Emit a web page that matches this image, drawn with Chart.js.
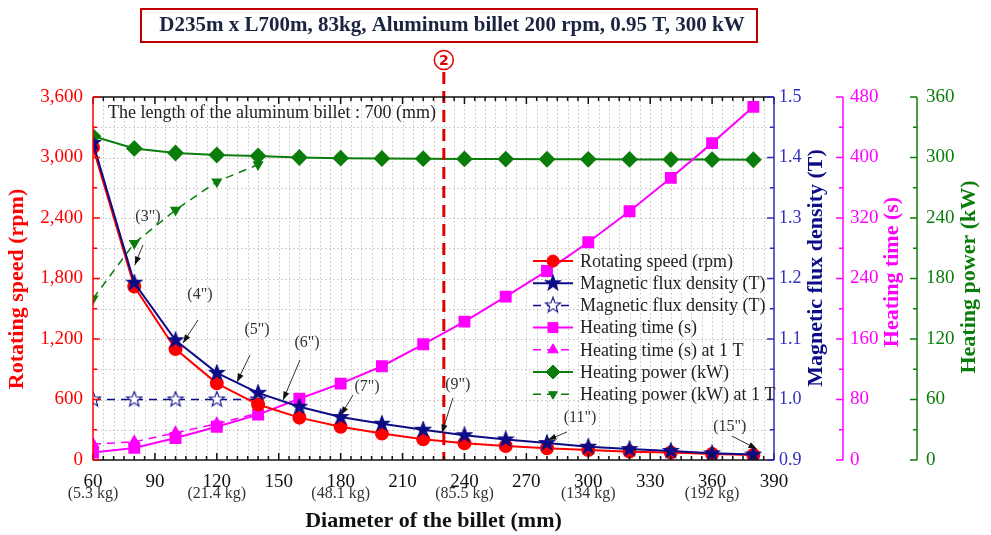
<!DOCTYPE html>
<html>
<head>
<meta charset="utf-8">
<script src="https://cdn.jsdelivr.net/npm/chart.js@4.4.0/dist/chart.umd.min.js"></script>
<style>
  html, body { margin: 0; padding: 0; background: #fff; }
  canvas { display: block; }
</style>
</head>
<body>
<canvas id="chart" width="991" height="535" style="width:991px;height:535px"></canvas>
<script>
// data
const diameters   = [60, 80, 100, 120, 140, 160, 180, 200, 220, 240, 260, 280, 300, 320, 340, 360, 380];
const speedRpm    = [3100, 1720, 1100, 760, 550, 420, 330, 262, 205, 166, 139, 116, 99, 83, 74, 60, 50];
const fluxT       = [1.424, 1.193, 1.098, 1.044, 1.011, 0.988, 0.971, 0.960, 0.950, 0.941, 0.934, 0.928, 0.922, 0.918, 0.915, 0.911, 0.909];
const timeS       = [10, 16, 29, 44, 60, 81, 101, 124, 153, 183, 216, 250, 288, 329, 373, 419, 467];
const powerKW     = [321, 309, 304.5, 302.5, 301.5, 300, 299.3, 299, 298.8, 298.6, 298.4, 298.3, 298.2, 298.1, 298, 297.9, 297.8];

const diameters1T = [60, 80, 100, 120, 140];
const flux1T      = [1.0, 1.0, 1.0, 1.0, 1.0];
const time1T      = [21, 24, 36, 48, 62];
const power1T     = [160, 215, 248, 276, 293];

const massAt      = [60, 120, 180, 240, 300, 360];
const massLabels  = ['(5.3 kg)', '(21.4 kg)', '(48.1 kg)', '(85.5 kg)', '(134 kg)', '(192 kg)'];
const markDiameter = 230;

const SERIF = '"Liberation Serif", "Times New Roman", serif';
const fnt = (size, bold) => (bold ? 'bold ' : '') + size + 'px ' + SERIF;

const RED = '#ff0000', NAVY = '#0c0c86', BLUE_AX = '#2f2fc0', PINK = '#ff00ff', GREEN = '#0a7d0a';

function pts(xs, ys) { return xs.map((x, i) => ({ x, y: ys[i] })); }

function makeStar(r, fill, stroke) {
  const c = document.createElement('canvas');
  c.width = c.height = Math.ceil(r * 2 + 2);
  const g = c.getContext('2d');
  const cx = c.width / 2, cy = c.height / 2;
  g.beginPath();
  for (let i = 0; i < 10; i++) {
    const rr = i % 2 ? r * 0.42 : r;
    const a = -Math.PI / 2 + i * Math.PI / 5;
    g.lineTo(cx + rr * Math.cos(a), cy + rr * Math.sin(a));
  }
  g.closePath();
  g.fillStyle = fill; g.fill();
  g.strokeStyle = stroke; g.lineWidth = 1.1; g.stroke();
  return c;
}
const starFull = makeStar(8, NAVY, NAVY);
const starOpen = makeStar(8, '#ffffff', NAVY);

// annotation labels, given in data units (x: mm, y: rpm)
const notes = [
  { t: '(3")',  tx: 86.6,  ty: 2411, fx: 84.2,  fy: 2133, ex: 80.3,  ey: 1935 },
  { t: '(4")',  tx: 111.8, ty: 1637, fx: 110.9, fy: 1389, ex: 103.6, ey: 1161 },
  { t: '(5")',  tx: 139.5, ty: 1290, fx: 136.1, fy: 1042, ex: 129.8, ey: 774 },
  { t: '(6")',  tx: 163.7, ty: 1161, fx: 160.3, fy: 992,  ex: 152.1, ey: 595 },
  { t: '(7")',  tx: 192.8, ty: 724,  fx: 186,   fy: 645,  ex: 180.2, ey: 446 },
  { t: '(9")',  tx: 236.8, ty: 744,  fx: 234.4, fy: 615,  ex: 229.1, ey: 268 },
  { t: '(11")', tx: 296,   ty: 417,  fx: 289.7, fy: 278,  ex: 280.4, ey: 198 },
  { t: '(15")', tx: 368.6, ty: 327,  fx: 369.6, fy: 238,  ex: 381.7, ey: 109 }
];

function line(ctx, x1, y1, x2, y2) { ctx.beginPath(); ctx.moveTo(x1, y1); ctx.lineTo(x2, y2); ctx.stroke(); }

const decor = {
  id: 'decor',
  beforeDatasetsDraw(chart) {
    const { ctx, chartArea: a, scales: { x, yRpm } } = chart;
    ctx.save();
    ctx.strokeStyle = '#c4c4c4'; ctx.lineWidth = 1; ctx.setLineDash([1.5, 2.5]);
    for (let v = 65; v < 390; v += 5) {
      const px = Math.round(x.getPixelForValue(v)) + 0.5;
      line(ctx, px, a.top, px, a.bottom);
    }
    for (let v = 300; v < 3600; v += 300) {
      const py = Math.round(yRpm.getPixelForValue(v)) + 0.5;
      line(ctx, a.left, py, a.right, py);
    }
    ctx.restore();
  },
  afterDatasetsDraw(chart) {
    const { ctx, chartArea: a, scales } = chart;
    const { x, yRpm, yT, yS, yKW } = scales;
    const H = Chart.helpers;
    ctx.save();

    // marker line at the chosen diameter
    ctx.strokeStyle = '#e00000'; ctx.lineWidth = 3; ctx.setLineDash([12, 7]);
    const mx = x.getPixelForValue(markDiameter);
    line(ctx, mx, 72, mx, a.bottom);
    ctx.setLineDash([]);

    // frame + inward ticks
    ctx.lineWidth = 1.5;
    ctx.strokeStyle = '#111';
    line(ctx, a.left, a.top, a.right, a.top);
    line(ctx, a.left, a.bottom, a.right, a.bottom);
    for (let v = 60; v <= 390; v += 5) {
      const px = x.getPixelForValue(v), len = v % 30 === 0 ? 7 : 4;
      line(ctx, px, a.bottom, px, a.bottom - len);
      line(ctx, px, a.top, px, a.top + len);
    }
    ctx.strokeStyle = RED;
    line(ctx, a.left, a.top, a.left, a.bottom);
    for (let v = 0; v <= 3600; v += 300) {
      const py = yRpm.getPixelForValue(v);
      line(ctx, a.left, py, a.left + (v % 600 === 0 ? 7 : 4), py);
    }
    const rightAxes = [
      { s: yT, c: BLUE_AX, x0: a.right, min: 0.9, max: 1.5, step: 0.05, major: 2 },
      { s: yS, c: PINK, x0: yS.left, min: 0, max: 480, step: 40, major: 2 },
      { s: yKW, c: GREEN, x0: yKW.left, min: 0, max: 360, step: 30, major: 2 }
    ];
    rightAxes.forEach(r => {
      ctx.strokeStyle = r.c;
      line(ctx, r.x0, a.top, r.x0, a.bottom);
      const n = Math.round((r.max - r.min) / r.step);
      for (let i = 0; i <= n; i++) {
        const py = r.s.getPixelForValue(r.min + i * r.step);
        line(ctx, r.x0, py, r.x0 - (i % r.major === 0 ? 7 : 4), py);
      }
    });

    // axis titles
    const vTitle = (text, cx, cy, color) => {
      ctx.save();
      ctx.translate(cx, cy); ctx.rotate(-Math.PI / 2);
      ctx.fillStyle = color; ctx.font = fnt(22, true);
      ctx.textAlign = 'center'; ctx.textBaseline = 'middle';
      ctx.fillText(text, 0, 0);
      ctx.restore();
    };
    vTitle('Rotating speed (rpm)', 17, 289, RED);
    vTitle('Magnetic flux density (T)', yT.right - 27, 268, NAVY);
    vTitle('Heating time (s)', yS.right - 25, 272, PINK);
    vTitle('Heating power (kW)', yKW.right - 22, 277, GREEN);

    // mass labels under the diameter ticks
    ctx.fillStyle = '#333'; ctx.font = fnt(16); ctx.textAlign = 'center'; ctx.textBaseline = 'middle';
    massAt.forEach((d, i) => ctx.fillText(massLabels[i], x.getPixelForValue(d), 494));

    // note inside plot
    ctx.fillStyle = '#222'; ctx.font = fnt(18); ctx.textAlign = 'left';
    ctx.fillText('The length of the aluminum billet : 700 (mm)', 108, 113);

    // annotations with arrows
    ctx.font = fnt(16); ctx.textAlign = 'center'; ctx.fillStyle = '#333';
    notes.forEach(n => {
      ctx.fillText(n.t, x.getPixelForValue(n.tx), yRpm.getPixelForValue(n.ty));
      const x1 = x.getPixelForValue(n.fx), y1 = yRpm.getPixelForValue(n.fy);
      const x2 = x.getPixelForValue(n.ex), y2 = yRpm.getPixelForValue(n.ey);
      ctx.strokeStyle = '#333'; ctx.lineWidth = 1;
      line(ctx, x1, y1, x2, y2);
      const ang = Math.atan2(y2 - y1, x2 - x1);
      ctx.beginPath();
      ctx.moveTo(x2, y2);
      ctx.lineTo(x2 - 9 * Math.cos(ang - 0.35), y2 - 9 * Math.sin(ang - 0.35));
      ctx.lineTo(x2 - 9 * Math.cos(ang + 0.35), y2 - 9 * Math.sin(ang + 0.35));
      ctx.closePath(); ctx.fillStyle = '#111'; ctx.fill(); ctx.fillStyle = '#333';
    });

    // legend
    const order = ['Rotating speed (rpm)', 'Magnetic flux density (T)', 'Magnetic flux density (T) ', 'Heating time (s)',
      'Heating time (s) at 1 T', 'Heating power (kW)', 'Heating power (kW) at 1 T'];
    ctx.font = fnt(18); ctx.textAlign = 'left'; ctx.textBaseline = 'middle';
    order.forEach((lab, i) => {
      const ds = chart.data.datasets.find(d => d.label === lab);
      const y = 261 + i * 22.2;
      ctx.strokeStyle = ds.borderColor; ctx.lineWidth = ds.borderWidth;
      ctx.setLineDash(ds.borderDash || []);
      line(ctx, 533, y, 573, y);
      ctx.setLineDash([]);
      ctx.fillStyle = ds.pointBackgroundColor; ctx.strokeStyle = ds.pointBorderColor; ctx.lineWidth = 1;
      H.drawPoint(ctx, { pointStyle: ds.pointStyle, radius: ds.pointRadius, rotation: ds.pointRotation || 0, borderWidth: 1 }, 553, y);
      ctx.fillStyle = '#222';
      ctx.fillText(lab.trim(), 580, y + 1);
    });

    // title box and circled marker
    ctx.strokeStyle = '#c00000'; ctx.lineWidth = 2;
    ctx.strokeRect(141, 9, 616, 33);
    ctx.fillStyle = '#1b2540'; ctx.font = fnt(21, true); ctx.textAlign = 'center';
    ctx.fillText('D235m x L700m, 83kg, Aluminum billet 200 rpm, 0.95 T, 300 kW', 452, 26);
    ctx.strokeStyle = '#e00000'; ctx.lineWidth = 1.5;
    ctx.beginPath(); ctx.arc(mx, 60, 9.5, 0, Math.PI * 2); ctx.stroke();
    ctx.fillStyle = '#e00000'; ctx.font = 'bold 14px "DejaVu Sans", sans-serif';
    ctx.fillText('2', mx, 61);

    ctx.restore();
  }
};

const base = { borderWidth: 2, clip: 0, tension: 0, fill: false };
const noGrid = { display: false, drawTicks: false };

new Chart(document.getElementById('chart'), {
  type: 'line',
  data: {
    datasets: [
      { ...base, label: 'Magnetic flux density (T)', data: pts(diameters, fluxT), yAxisID: 'yT', order: 1,
        borderColor: NAVY, pointStyle: starFull, pointRadius: 8, pointBackgroundColor: NAVY, pointBorderColor: NAVY },
      { ...base, label: 'Rotating speed (rpm)', data: pts(diameters, speedRpm), yAxisID: 'yRpm', order: 2,
        borderColor: RED, pointStyle: 'circle', pointRadius: 6, pointBackgroundColor: RED, pointBorderColor: RED },
      { ...base, label: 'Magnetic flux density (T) ', data: pts(diameters1T, flux1T), yAxisID: 'yT', order: 3,
        borderColor: NAVY, borderWidth: 1.5, borderDash: [8, 6], pointStyle: starOpen, pointRadius: 8,
        pointBackgroundColor: '#fff', pointBorderColor: NAVY },
      { ...base, label: 'Heating time (s)', data: pts(diameters, timeS), yAxisID: 'yS', order: 4,
        borderColor: PINK, pointStyle: 'rect', pointRadius: 7, pointBackgroundColor: PINK, pointBorderColor: PINK },
      { ...base, label: 'Heating time (s) at 1 T', data: pts(diameters1T, time1T), yAxisID: 'yS', order: 5,
        borderColor: PINK, borderWidth: 1.5, borderDash: [8, 6], pointStyle: 'triangle', pointRadius: 6,
        pointBackgroundColor: PINK, pointBorderColor: PINK },
      { ...base, label: 'Heating power (kW)', data: pts(diameters, powerKW), yAxisID: 'yKW', order: 6,
        borderColor: GREEN, pointStyle: 'rectRot', pointRadius: 7, pointBackgroundColor: GREEN, pointBorderColor: GREEN },
      { ...base, label: 'Heating power (kW) at 1 T', data: pts(diameters1T, power1T), yAxisID: 'yKW', order: 7,
        borderColor: GREEN, borderWidth: 1.5, borderDash: [8, 6], pointStyle: 'triangle', pointRotation: 180, pointRadius: 5,
        pointBackgroundColor: GREEN, pointBorderColor: GREEN }
    ]
  },
  options: {
    responsive: false,
    animation: false,
    devicePixelRatio: 1,
    layout: { padding: { top: 97, left: 0, right: 0, bottom: 0 } },
    plugins: { legend: { display: false }, tooltip: { enabled: false }, title: { display: false } },
    scales: {
      x: {
        type: 'linear', position: 'bottom', min: 60, max: 390,
        grid: noGrid, border: { display: false },
        ticks: { stepSize: 30, padding: 11, color: '#111', font: { family: SERIF, size: 19 } },
        title: { display: true, text: 'Diameter of the billet (mm)', color: '#111', padding: { top: 0, bottom: 0 },
          font: { family: SERIF, size: 22, weight: 'bold' } },
        afterFit: s => { s.height = 75; }
      },
      yRpm: {
        type: 'linear', position: 'left', min: 0, max: 3600,
        grid: noGrid, border: { display: false },
        ticks: { stepSize: 600, padding: 10, color: RED, font: { family: SERIF, size: 19 },
          callback: v => v.toLocaleString('en-US') },
        afterFit: s => { s.width = 93; }
      },
      yT: {
        type: 'linear', position: 'right', min: 0.9, max: 1.5,
        grid: noGrid, border: { display: false },
        ticks: { stepSize: 0.1, padding: 5, color: BLUE_AX, font: { family: SERIF, size: 18 },
          callback: v => v.toFixed(1) },
        afterFit: s => { s.width = 69; }
      },
      yS: {
        type: 'linear', position: 'right', min: 0, max: 480,
        grid: noGrid, border: { display: false },
        ticks: { stepSize: 80, padding: 7, color: PINK, font: { family: SERIF, size: 19 } },
        afterFit: s => { s.width = 74; }
      },
      yKW: {
        type: 'linear', position: 'right', min: 0, max: 360,
        grid: noGrid, border: { display: false },
        ticks: { stepSize: 60, padding: 9, color: GREEN, font: { family: SERIF, size: 19 } },
        afterFit: s => { s.width = 74; }
      }
    }
  },
  plugins: [decor]
});
</script>
</body>
</html>
